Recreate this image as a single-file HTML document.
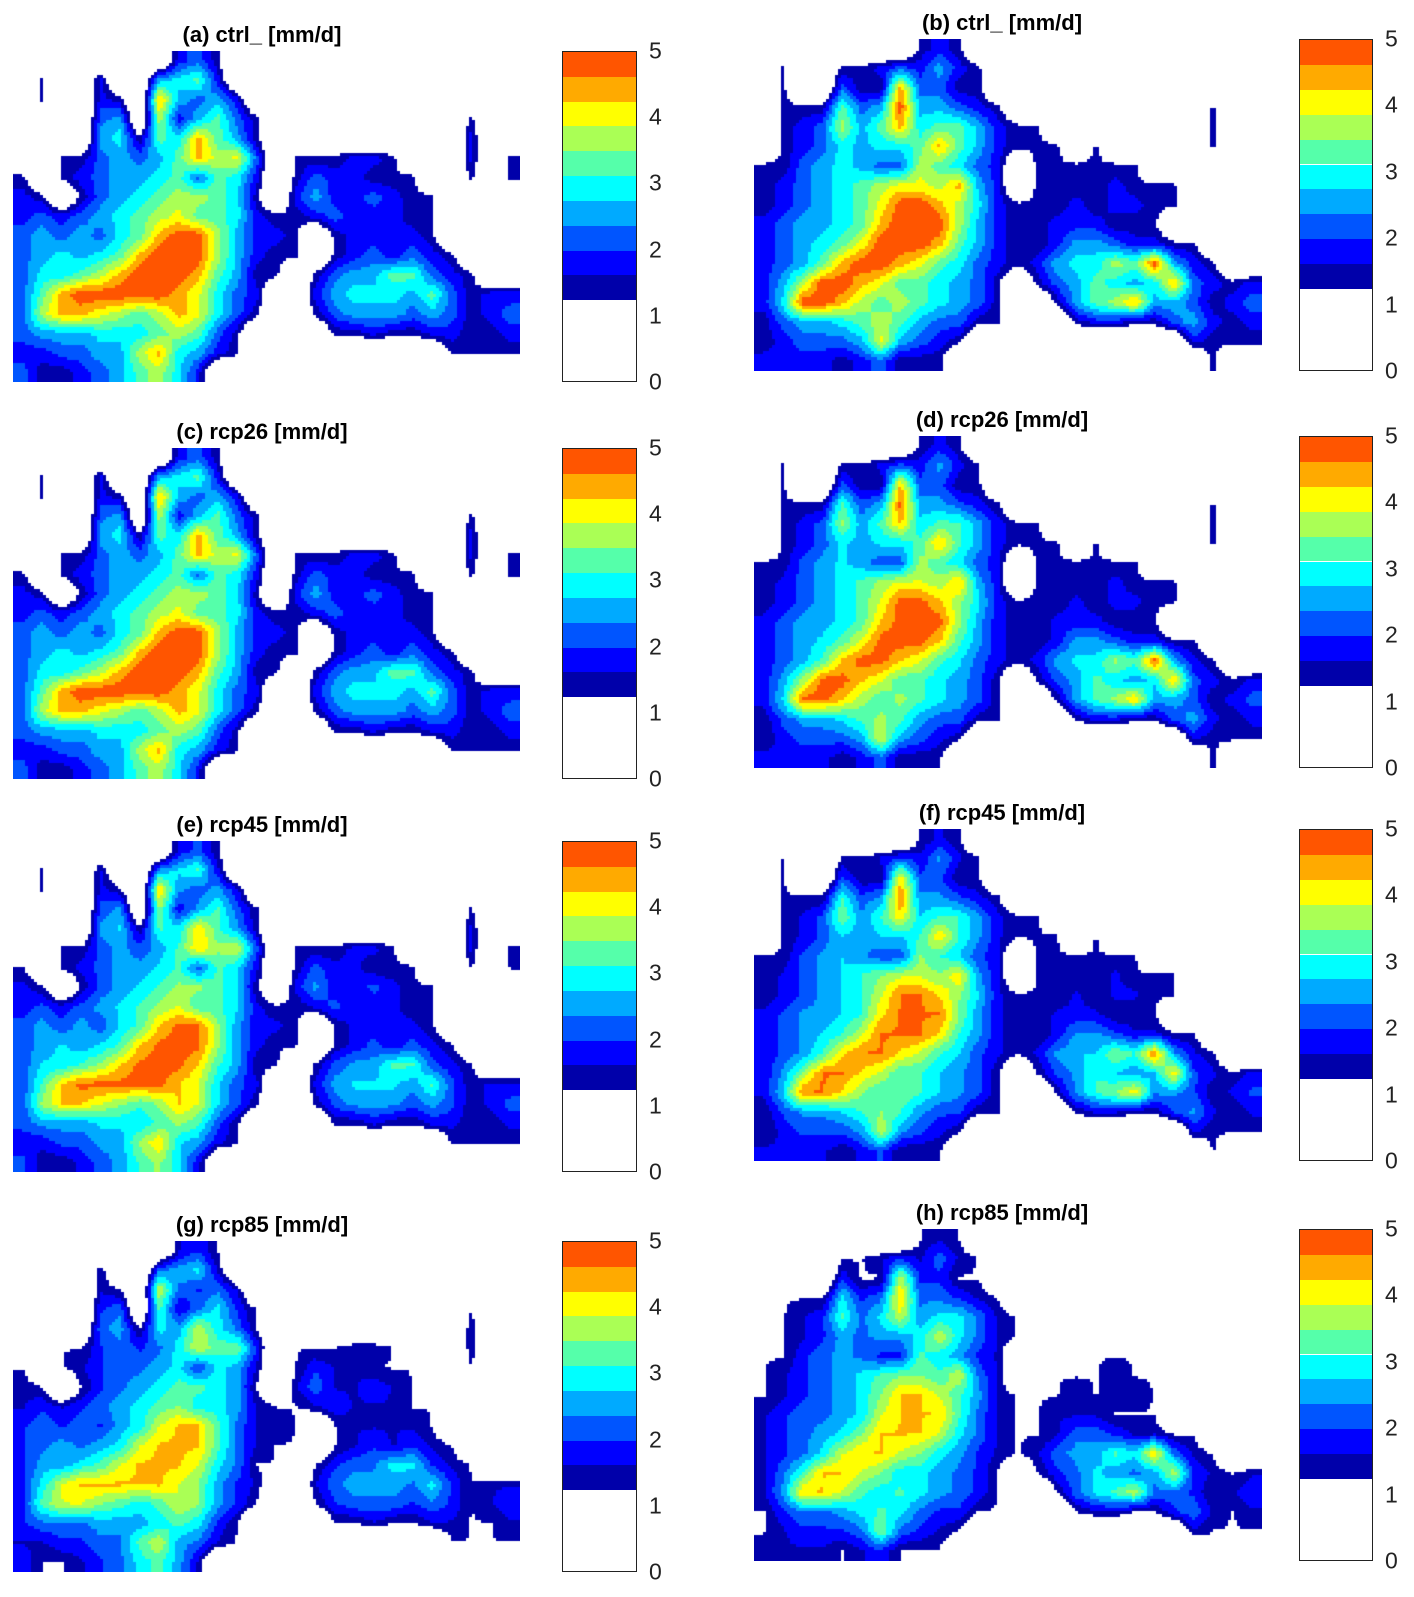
<!DOCTYPE html>
<html><head><meta charset="utf-8">
<style>
body{margin:0;background:#fff;width:1414px;height:1597px;position:relative;overflow:hidden;font-family:"Liberation Sans",sans-serif;}
.title{position:absolute;font-weight:bold;font-size:22px;line-height:26px;color:#000;white-space:nowrap;transform:translate(-50%,-50%);}
canvas{position:absolute;}
.cbar{position:absolute;border:1px solid #222;box-sizing:border-box;}
.tick{position:absolute;font-size:23px;color:#222;transform:translateY(-50%);}
</style></head>
<body>
<div id="root"></div>
<script>
// data: precipitation fields (mm/d) on coarse grids (26 x 17), rows top->bottom
const fieldLeft = [
[0,0,0,0,0,0,0,0,1.8,2.2,1.4,0,0,0,0,0,0,0,0,0,0,0,0,0,0,0],
[0,1.4,0,0,1.8,0,0,2.6,2.9,3.3,1.8,0,0,0,0,0,0,0,0,0,0,0,0,0,0,0],
[0,1.4,0,0,1.8,1.4,0,4.4,2.6,2.2,2.6,1.8,0,0,0,0,0,0,0,0,0,0,0,0,0,0],
[0,0,0,0,2.2,2.6,0,3.7,1.8,2.6,3.3,2.2,1.4,0,0,0,0,0,0,0,0,0,0,1.4,0,0],
[0,0,0,0,2.6,2.9,1.4,3.3,2.9,4.4,3.3,2.6,1.4,0,0,0,0,0,0,0,0,0,0,1.8,0,0],
[0,0,1.4,1.4,2.2,2.6,2.2,2.6,3.3,4.4,3.7,4.0,2.2,0,1.4,1.4,1.4,1.8,1.8,1.4,0,0,0,1.8,0,1.4],
[1.4,0,1.4,1.8,2.2,2.6,2.6,2.9,3.3,2.2,3.3,2.9,1.8,0,1.4,2.2,1.8,1.8,1.4,1.4,1.4,0,0,1.4,0,1.4],
[1.8,1.4,0,1.4,2.2,2.6,2.9,3.3,3.7,3.7,3.3,2.9,1.4,0,1.8,2.6,1.8,1.8,2.2,1.8,1.4,1.4,0,0,0,0],
[1.8,2.2,1.8,2.2,2.6,2.9,3.3,3.7,4.0,3.3,3.3,2.9,1.8,1.4,1.4,1.8,2.2,1.8,1.8,1.8,1.4,1.4,0,0,0,0],
[2.2,2.6,2.2,2.6,2.2,2.9,3.3,4.4,4.9,4.9,3.7,2.6,1.8,1.8,1.4,0,1.4,1.8,1.8,1.8,1.8,1.4,0,0,0,0],
[2.2,2.6,2.9,2.6,2.9,3.3,4.4,4.9,4.9,4.9,3.7,2.6,1.8,1.4,1.4,0,1.4,1.8,2.2,1.8,2.2,1.8,1.4,0,0,0],
[2.2,2.9,2.9,3.3,3.7,4.4,4.9,4.9,4.9,4.4,3.3,2.6,1.4,1.4,0,1.4,2.2,2.6,2.6,3.3,3.3,2.2,1.8,1.4,0,0],
[2.2,3.3,4.4,4.9,4.9,4.9,4.9,4.9,4.4,4.0,2.9,2.2,1.8,0,0,1.8,2.6,2.9,2.9,2.9,2.6,3.3,2.2,1.4,1.8,1.8],
[2.2,3.7,4.4,4.4,4.0,3.7,3.3,3.7,4.4,4.0,2.9,2.2,1.4,0,0,1.4,2.2,2.6,2.6,2.6,2.2,2.6,2.2,1.4,1.8,2.2],
[2.2,2.6,2.6,2.6,2.9,2.9,2.9,3.3,3.7,3.3,2.2,1.4,0,0,0,0,1.4,1.4,1.8,1.4,1.4,1.8,1.8,1.4,1.4,1.8],
[1.8,1.8,2.2,2.2,2.6,2.6,3.7,4.4,2.9,2.6,1.8,1.4,0,0,0,0,0,0,0,0,0,0,1.4,1.4,1.4,1.4],
[2.2,1.4,1.4,1.8,2.2,2.6,3.3,3.7,2.9,1.8,0,0,0,0,0,0,0,0,0,0,0,0,0,0,0,0]
];
const fieldRight = [
[0,0,0,0,0,0,0,0,1.4,1.8,1.4,0,0,0,0,0,0,0,0,0,0,0,0,0,0,0],
[0,1.4,0,0,1.4,1.4,1.8,2.2,1.8,2.6,1.8,1.4,0,0,0,0,0,0,0,0,0,0,0,0,0,0],
[0,1.4,0,0,2.2,1.4,1.4,4.4,2.2,2.2,1.4,1.4,0,0,0,0,0,0,0,0,0,0,0,0,0,0],
[0,1.4,1.4,1.4,3.3,2.2,2.6,4.9,2.6,2.6,2.2,1.8,1.4,0,0,0,0,0,0,0,0,0,0,1.4,0,0],
[0,1.4,1.8,2.2,3.7,2.6,3.3,4.4,2.9,3.3,3.3,2.6,1.8,1.4,1.4,0,0,0,0,0,0,0,0,1.4,0,0],
[0,1.4,1.8,2.2,2.9,2.6,2.9,2.9,3.3,4.4,3.3,2.6,1.8,1.4,1.4,1.4,0,1.4,0,0,0,0,0,1.4,0,0],
[1.4,1.4,2.2,2.6,2.9,2.6,2.2,2.2,3.7,3.3,2.9,2.2,1.8,0,1.4,1.4,1.4,1.4,1.4,1.4,0,0,0,0,0,0],
[1.4,1.8,2.2,2.6,2.9,3.3,3.7,4.0,4.0,3.7,4.4,2.6,1.8,0,1.4,1.4,1.4,1.4,1.8,1.4,1.4,1.4,0,0,0,0],
[1.4,1.8,2.2,2.6,2.9,3.3,4.0,4.9,4.9,4.4,3.7,2.9,1.8,1.4,1.4,1.4,1.8,1.4,1.8,1.8,1.4,1.4,0,0,0,0],
[1.8,2.2,2.6,2.6,2.9,3.3,4.4,4.9,4.9,4.9,3.7,2.6,1.8,1.4,1.4,1.8,1.8,1.8,1.4,1.4,1.4,0,0,0,0,0],
[1.8,2.2,2.6,2.9,3.3,4.0,4.9,4.9,4.9,4.4,3.3,2.6,1.8,1.4,1.4,1.8,2.6,2.6,2.2,1.8,1.8,1.4,1.4,0,0,0],
[1.8,2.2,2.6,3.3,4.4,4.9,4.9,4.4,4.0,3.3,2.9,2.2,1.8,1.4,1.8,2.6,2.9,2.9,3.7,3.3,4.9,2.6,1.8,1.4,0,0],
[1.8,2.6,3.7,4.9,4.9,4.4,4.0,3.3,3.3,2.9,2.6,2.2,1.4,0,1.4,2.2,2.6,3.3,2.9,2.6,2.9,4.4,2.2,1.8,1.4,1.8],
[1.8,2.9,4.9,4.9,4.4,3.7,3.3,3.7,3.3,2.9,2.6,2.2,1.4,0,0,1.4,2.6,3.3,3.7,4.4,2.6,2.6,2.2,1.4,1.8,2.2],
[1.4,2.2,2.6,2.6,2.9,3.3,3.7,3.3,2.6,2.2,2.2,1.4,1.4,0,0,0,1.4,1.8,1.8,1.4,1.4,2.2,2.6,1.8,1.4,1.8],
[1.4,1.8,2.2,2.2,2.2,2.6,4.0,2.6,2.2,1.8,1.4,0,0,0,0,0,0,0,0,0,0,0,1.8,1.4,1.4,1.4],
[1.8,1.8,1.8,1.8,1.4,1.8,2.2,1.4,1.4,1.4,0,0,0,0,0,0,0,0,0,0,0,0,0,1.4,0,0]
];
const panelTitles = ["(a) ctrl_ [mm/d]","(b) ctrl_ [mm/d]","(c) rcp26 [mm/d]","(d) rcp26 [mm/d]","(e) rcp45 [mm/d]","(f) rcp45 [mm/d]","(g) rcp85 [mm/d]","(h) rcp85 [mm/d]"];
const panelScale = [1.0,1.0,1.0,0.98,0.97,0.95,0.88,0.87];
const levels = [1.25,1.625,2.0,2.375,2.75,3.125,3.5,3.875,4.25,4.625];
const levelColors = ["#0000aa","#0000ff","#0055ff","#00aaff","#00ffff","#55ffaa","#aaff55","#ffff00","#ffaa00","#ff5500"];
const tickLabels = [0,1,2,3,4,5];

const root=document.getElementById('root');
const mapW=[507,508], mapH=[331,332];
const colX=[13,754], cbX=[562,1299], cbW=[75,74];
const rowTops=[[51,448,841,1241],[39,436,829,1229]];
const titleX=[262,1002];

function colorFor(v){let c=null;for(let i=0;i<levels.length;i++){if(v>=levels[i])c=levelColors[i];}return c;}
function sample(g,fx,fy){
  const R=g.length,C=g[0].length;
  let x=fx*C-0.5,y=fy*R-0.5;
  x=Math.max(0,Math.min(C-1,x));y=Math.max(0,Math.min(R-1,y));
  const x0=Math.floor(x),y0=Math.floor(y),x1=Math.min(C-1,x0+1),y1=Math.min(R-1,y0+1);
  const tx=x-x0,ty=y-y0;
  return g[y0][x0]*(1-tx)*(1-ty)+g[y0][x1]*tx*(1-ty)+g[y1][x0]*(1-tx)*ty+g[y1][x1]*tx*ty;
}
function valueToY(v,top,h){return top+h*(5-v)/5;}

for(let p=0;p<8;p++){
  const col=p%2,row=Math.floor(p/2);
  const top=rowTops[col][row], left=colX[col], W=mapW[col], H=mapH[col];
  const g=col===0?fieldLeft:fieldRight, s=panelScale[p];
  const t=document.createElement('div');
  t.className='title';t.textContent=panelTitles[p];
  t.style.left=titleX[col]+'px';t.style.top=(top-16)+'px';
  
  
  root.appendChild(t);
  const cv=document.createElement('canvas');
  cv.width=W;cv.height=H;cv.style.left=left+'px';cv.style.top=top+'px';
  
  
  root.appendChild(cv);
  const ctx=cv.getContext('2d');const step=3;
  for(let y=0;y<H;y+=step){for(let x=0;x<W;x+=step){
    const v=sample(g,(x+1.5)/W,(y+1.5)/H)*s;
    const c=colorFor(v);if(c){ctx.fillStyle=c;ctx.fillRect(x,y,step,step);}
  }}
  const cb=document.createElement('div');
  cb.className='cbar';cb.style.left=cbX[col]+'px';cb.style.top=top+'px';cb.style.width=cbW[col]+'px';cb.style.height=H+'px';
  
  
  for(let i=0;i<levels.length;i++){
    const hi=i<levels.length-1?levels[i+1]:5;
    const seg=document.createElement('div');
    const y0=valueToY(hi,0,H),y1=valueToY(levels[i],0,H);
    seg.style.cssText='position:absolute;left:0;right:0;top:'+y0+'px;height:'+(y1-y0)+'px;background:'+levelColors[i];
    
    
    cb.appendChild(seg);
  }
  root.appendChild(cb);
  tickLabels.forEach(v=>{
    const tk=document.createElement('div');tk.className='tick';tk.textContent=v;
    tk.style.left=(cbX[col]+cbW[col]+12)+'px';tk.style.top=valueToY(v,top,H)+'px';
    
    
    root.appendChild(tk);
  });
}
</script>
</body></html>
